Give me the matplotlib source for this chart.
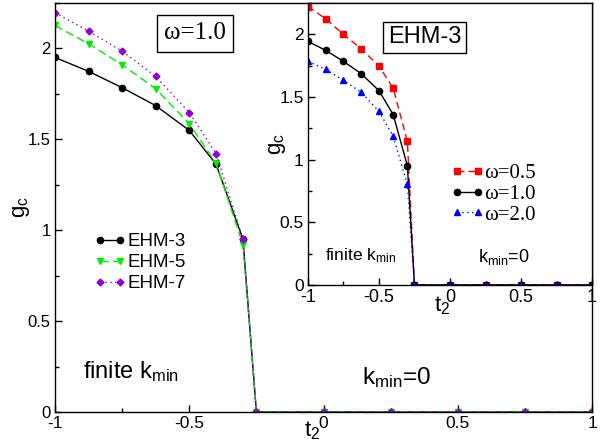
import matplotlib
matplotlib.use("Agg")
import matplotlib.pyplot as plt
from matplotlib.ticker import MultipleLocator

plt.rcParams["font.family"] = ["Liberation Sans", "DejaVu Sans"]
plt.rcParams["mathtext.fontset"] = "custom"
plt.rcParams["mathtext.rm"] = "Liberation Sans"
plt.rcParams["mathtext.it"] = "Liberation Sans"
plt.rcParams["axes.unicode_minus"] = False

# t2 grid shared by all curves
t2 = [-1.0, -0.875, -0.75, -0.625, -0.5, -0.4, -0.3, -0.25, 0.0, 0.25, 0.5, 0.75, 1.0]

# main panel: omega = 1.0, different models
gc_ehm3 = [1.95, 1.874, 1.784, 1.685, 1.549, 1.363, 0.95, 0, 0, 0, 0, 0, 0]
gc_ehm5 = [2.126, 2.026, 1.91, 1.778, 1.586, 1.368, 0.92, 0, 0, 0, 0, 0, 0]
gc_ehm7 = [2.196, 2.095, 1.985, 1.846, 1.647, 1.421, 0.95, 0, 0, 0, 0, 0, 0]

# inset: EHM-3, different omega
gc_w05 = [2.223, 2.125, 2.0, 1.886, 1.747, 1.572, 1.147, 0, 0, 0, 0, 0, 0]
gc_w10 = [1.944, 1.873, 1.785, 1.687, 1.551, 1.36, 0.951, 0, 0, 0, 0, 0, 0]
gc_w20 = [1.785, 1.721, 1.633, 1.538, 1.386, 1.187, 0.802, 0, 0, 0, 0, 0, 0]

xtick_labels = ["-1", "-0.5", "0", "0.5", "1"]
ytick_labels = ["0", "0.5", "1", "1.5", "2"]


def style_axes(ax, xsize=12.5, ysize=12):
    ax.set_xlim(-1, 1)
    ax.set_ylim(0, 2.25)
    ax.xaxis.set_minor_locator(MultipleLocator(0.25))
    ax.yaxis.set_minor_locator(MultipleLocator(0.25))
    ax.tick_params(which="both", direction="in", top=False, right=False)
    ax.tick_params(which="major", length=5, width=1)
    ax.tick_params(which="minor", length=3, width=1)
    ax.tick_params(axis="y", pad=3, labelsize=ysize)
    ax.tick_params(axis="x", pad=3, labelsize=xsize)
    ax.set_xticks([-1, -0.5, 0, 0.5, 1])
    ax.set_xticklabels(xtick_labels)
    ax.set_yticks([0, 0.5, 1, 1.5, 2])
    ax.set_yticklabels(ytick_labels)
    for s in ax.spines.values():
        s.set_linewidth(1.0)


fig = plt.figure(figsize=(6.11, 4.48), dpi=100)
ax = fig.add_axes([0.090, 0.0804, 0.879, 0.913])
style_axes(ax)

ax.plot(t2, gc_ehm3, color="black", lw=1, marker="o", ms=4.5, label="EHM-3")
ax.plot(t2, gc_ehm5, color="#00ee00", lw=1, ls=(0, (6, 3)), marker="v", ms=5, label="EHM-5")
ax.plot(t2, gc_ehm7, color="#9400d3", lw=1, ls=(0, (1, 2.5)), marker="D", ms=3.5, label="EHM-7")

ax.legend(loc="upper left", bbox_to_anchor=(0.073, 0.437), frameon=False, fontsize=13.5,
          numpoints=2, handlelength=1.67, handletextpad=0.12, labelspacing=0.2,
          borderpad=0, borderaxespad=0)

ax.set_ylabel(r"$\mathrm{g_c}$", fontsize=16, labelpad=-3)
ax.text(0.494, -0.018, r"$\mathrm{t_2}$", transform=ax.transAxes, ha="right", va="top", fontsize=16)

ax.text((195 - 55) / 537, 1 - (33.5 - 3) / 409, "ω=1.0", transform=ax.transAxes,
        ha="center", va="center", fontsize=18, family=["Liberation Serif", "DejaVu Serif"],
        bbox=dict(boxstyle="square,pad=0.3", fc="white", ec="black", lw=1))

ax.text(0.052, 0.083, r"finite k$_{\mathrm{min}}$", transform=ax.transAxes,
        ha="left", va="baseline", fontsize=17)
ax.text(0.572, 0.068, r"k$_{\mathrm{min}}$=0", transform=ax.transAxes,
        ha="left", va="baseline", fontsize=17.5)

# inset
ins = fig.add_axes([0.504, 0.364, 0.465, 0.629])
style_axes(ins, xsize=13, ysize=12.5)
ins.plot(t2, gc_w05, color="red", lw=1, ls=(0, (5, 3)), marker="s", ms=4, label="ω=0.5")
ins.plot(t2, gc_w10, color="black", lw=1, marker="o", ms=4.5, label="ω=1.0")
ins.plot(t2, gc_w20, color="blue", lw=1, ls=(0, (1, 2.5)), marker="^", ms=4.5, label="ω=2.0")

ins.legend(loc="upper left", bbox_to_anchor=(0.503, 0.43), frameon=False,
           prop={"family": ["Liberation Serif", "DejaVu Serif"], "size": 15},
           numpoints=2, handlelength=1.6, handletextpad=0.0, labelspacing=0.05,
           borderpad=0, borderaxespad=0)

ins.set_ylabel(r"$\mathrm{g_c}$", fontsize=16, labelpad=-6)
ins.text(0.50, -0.035, r"$\mathrm{t_2}$", transform=ins.transAxes, ha="right", va="top", fontsize=16)

ins.text((424.5 - 308) / 284, (285 - 36.5) / 283, "EHM-3", transform=ins.transAxes,
         ha="center", va="center", fontsize=17,
         bbox=dict(boxstyle="square,pad=0.2", fc="white", ec="black", lw=1))

ins.text(0.06, 0.088, r"finite k$_{\mathrm{min}}$", transform=ins.transAxes,
         ha="left", va="baseline", fontsize=12.5)
ins.text(0.599, 0.081, r"k$_{\mathrm{min}}$=0", transform=ins.transAxes,
         ha="left", va="baseline", fontsize=13)

fig.savefig("out.png", dpi=100)
